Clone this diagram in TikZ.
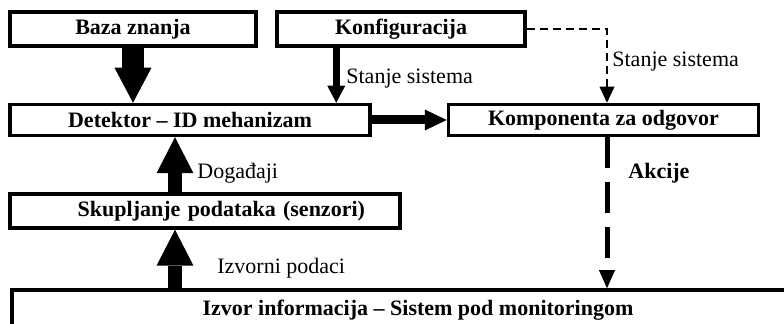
\documentclass[tikz,border=0pt]{standalone}
\usepackage{fontspec}
\setmainfont{Liberation Serif}
\usetikzlibrary{arrows.meta, calc, positioning}
\tikzset{
  box/.style={draw, line width=1.75pt, inner sep=0pt, minimum height=17pt,
    font=\fontsize{11}{13}\selectfont\bfseries},
  lbl/.style={anchor=west, inner sep=0pt, font=\fontsize{11}{13}\selectfont},
  fatarrow/.style={line width=11pt, -{Triangle[width=18.5pt, length=17.5pt, line width=0pt]}},
  uparrow/.style={line width=7pt, -{Triangle[width=18.5pt, length=18pt, line width=0pt]}},
  midarrow/.style={line width=3.5pt, -{Triangle[width=9pt, length=8.5pt, line width=0pt]}},
  sidearrow/.style={line width=4.5pt, -{Triangle[width=10.5pt, length=11pt, line width=0pt]}},
  dasharrow/.style={line width=0.8pt, dash pattern=on 4pt off 2.5pt,
    -{Triangle[width=7.5pt, length=8pt, line width=0pt]}},
  actarrow/.style={line width=2.5pt, dash pattern=on 15.5pt off 7pt,
    -{Triangle[width=8pt, length=9pt, line width=0pt]}}
}

\begin{document}
\begin{tikzpicture}[x=0.5pt, y=-0.5pt]

\useasboundingbox (0,0) rectangle (784,324);
\clip (0,0) rectangle (784,324);

% Boxes
\node[box, minimum width=123pt] (baza) at (133,29) {Baza znanja};
\node[box, minimum width=124pt] (konf) at (401,29) {Konfiguracija};
\node[box, minimum width=180pt, minimum height=15.5pt] (det) at (190,120) {Detektor -- ID mehanizam};
\node[box, minimum width=155pt, minimum height=15.5pt] (komp) at (603.5,120) {Komponenta za odgovor};
\node[box, inner xsep=17.5pt, text width=160pt, align=right] (skup) at (205,211) {Skupljanje podataka (senzori)};
\node[box, minimum width=406pt, minimum height=20pt] (izvor) at (418,310) {Izvor informacija -- Sistem pod monitoringom};

% Helper points
\coordinate (k1) at ([xshift=30.5pt]konf.south west);
\coordinate (a1) at ([xshift=1.75pt]komp.south);
\coordinate (s1) at ([xshift=-15pt]skup.north);
\coordinate (i1) at (s1 |- izvor.north);

% Arrows
\draw[fatarrow] (baza.south) -- (baza.south |- det.north);
\draw[midarrow] (k1) -- (k1 |- det.north);
\draw[sidearrow] (det.east) -- (komp.west);
\draw[dasharrow] (konf.east) -| ([xshift=1.75pt]komp.north);
\draw[actarrow] (a1) -- (a1 |- izvor.north);
\draw[uparrow] (s1) -- (s1 |- det.south);
\draw[uparrow] (i1) -- (i1 |- skup.south);

% Labels
\node[lbl] (lstanjeA) at (346,79) {Stanje sistema};
\node[lbl] (lstanjeB) at (612,62) {Stanje sistema};
\node[lbl] (ldog) at (197,173) {Događaji};
\node[lbl] (lizv) at (217,268) {Izvorni podaci};
\node[lbl, font=\fontsize{11}{13}\selectfont\bfseries] (lakc) at (628,173) {Akcije};

\end{tikzpicture}
\end{document}
